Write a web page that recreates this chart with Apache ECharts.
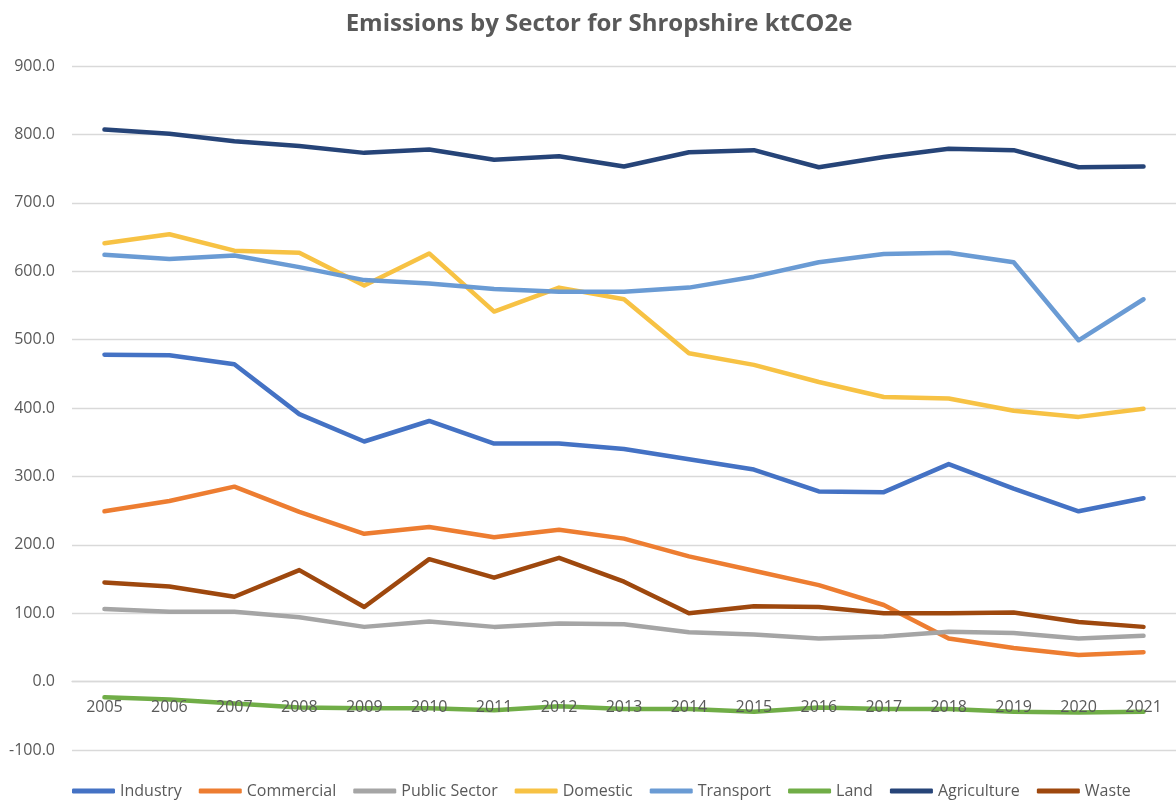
<!DOCTYPE html>
<html>
<head>
<meta charset="utf-8">
<script src="https://cdn.jsdelivr.net/npm/echarts@6/dist/echarts.min.js"></script>
<style>html,body{margin:0;padding:0;background:#fff;}#c{width:1176px;height:800px;}</style>
</head>
<body>
<div id="c"></div>
<script>
const years = ['2005','2006','2007','2008','2009','2010','2011','2012','2013','2014','2015','2016','2017','2018','2019','2020','2021'];
const industry     = [478, 477, 464, 391, 351, 381, 348, 348, 340, 325, 310, 278, 277, 318, 282, 249, 268];
const commercial   = [249, 264, 285, 248, 216, 226, 211, 222, 209, 183, 162, 141, 112, 63, 49, 39, 43];
const publicSector = [106, 102, 102, 94, 80, 88, 80, 85, 84, 72, 69, 63, 66, 73, 71, 63, 67];
const domestic     = [641, 654, 630, 627, 579, 626, 541, 576, 559, 480, 463, 438, 416, 414, 396, 387, 399];
const transport    = [624, 618, 623, 606, 587, 582, 574, 570, 570, 576, 592, 613, 625, 627, 613, 499, 559];
const land         = [-23, -26, -32, -38, -39, -39, -42, -36, -40, -40, -44, -38, -40, -40, -44, -45, -44];
const agriculture  = [807, 801, 790, 783, 773, 778, 763, 768, 753, 774, 777, 752, 767, 779, 777, 752, 753];
const waste        = [145, 139, 124, 163, 109, 179, 152, 181, 146, 100, 110, 109, 100, 100, 101, 87, 80];

const seriesNames = ['Industry','Commercial','Public Sector','Domestic','Transport','Land','Agriculture','Waste'];
const seriesData = [industry, commercial, publicSector, domestic, transport, land, agriculture, waste];
const colors = ['#4472C4','#ED7D31','#A5A5A5','#F7C244','#6A9BD4','#70AD47','#264478','#9E480E'];

const chart = echarts.init(document.getElementById('c'));
const font = "'Open Sans', sans-serif";
chart.setOption({
  backgroundColor: '#ffffff',
  animation: false,
  color: colors,
  title: {
    text: 'Emissions by Sector for Shropshire ktCO2e',
    left: 594, top: 7, textAlign: 'center',
    textStyle: { fontFamily: font, fontSize: 24, fontWeight: 'bold', color: '#595959' }
  },
  legend: {
    left: 67, bottom: -4,
    itemWidth: 43, itemHeight: 5, itemGap: 17,
    icon: 'roundRect',
    textStyle: { fontFamily: font, fontSize: 16, color: '#595959' },
    data: seriesNames
  },
  grid: { left: 72, top: 66, width: 1110, height: 684, containLabel: false },
  xAxis: {
    type: 'category',
    data: years,
    boundaryGap: true,
    offset: -68.4,
    z: 10,
    axisLine: { onZero: false, lineStyle: { color: '#D9D9D9', width: 1.3 } },
    axisTick: { show: false },
    axisLabel: { fontFamily: font, fontSize: 16, color: '#595959', margin: 18 }
  },
  yAxis: {
    type: 'value',
    min: -100, max: 900, interval: 100,
    axisLine: { show: false },
    axisTick: { show: false },
    splitLine: { lineStyle: { color: '#D9D9D9', width: 1.3 } },
    axisLabel: { fontFamily: font, fontSize: 16, color: '#595959', margin: 17,
      formatter: v => v.toFixed(1) }
  },
  series: seriesNames.map((n, i) => ({
    name: n, type: 'line', data: seriesData[i],
    symbol: 'none', showSymbol: false,
    lineStyle: { width: 4.5, color: colors[i], cap: 'round', join: 'round' },
    itemStyle: { color: colors[i] }
  }))
});
</script>
</body>
</html>
